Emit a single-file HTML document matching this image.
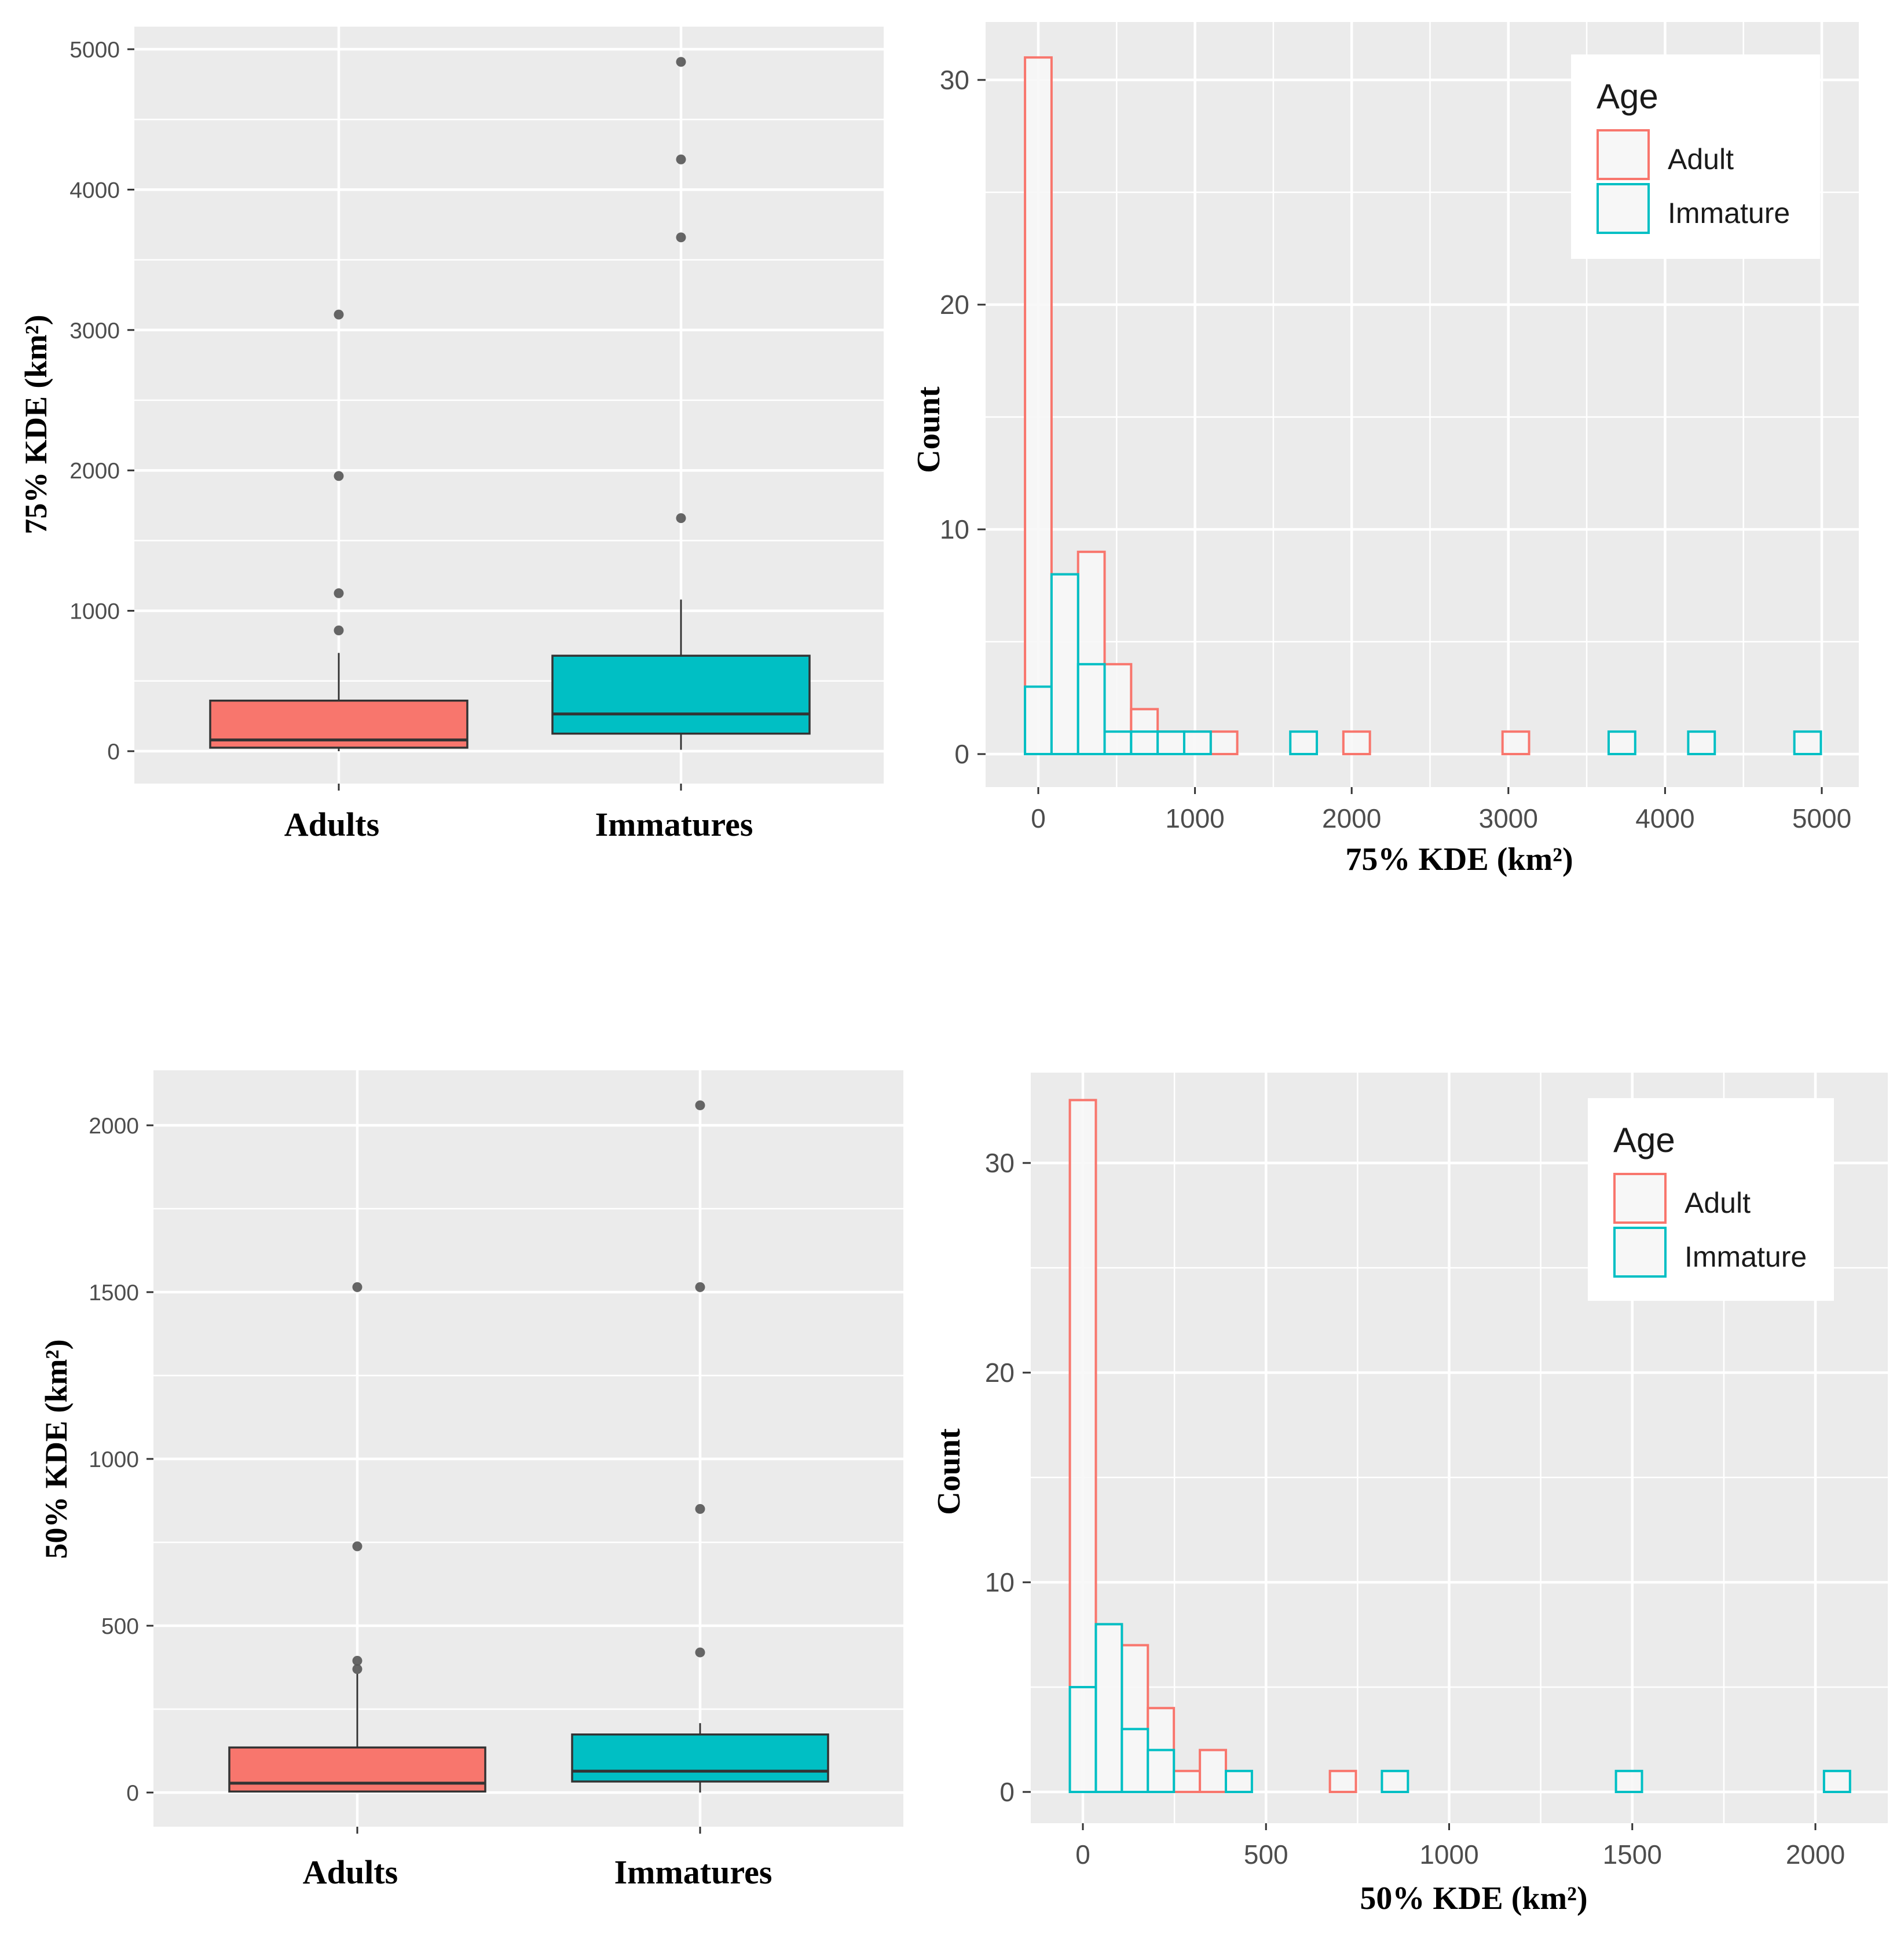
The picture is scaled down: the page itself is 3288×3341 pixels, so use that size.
<!DOCTYPE html>
<html><head><meta charset="utf-8">
<style>
html,body{margin:0;padding:0;background:#fff;}
svg{display:block;}
.tick{font-family:"Liberation Sans",sans-serif;fill:#4d4d4d;}
.ttl{font-family:"Liberation Serif",serif;font-weight:bold;fill:#000;}
.leg{font-family:"Liberation Sans",sans-serif;fill:#1a1a1a;}
</style></head>
<body>
<svg id="fig" width="3288" height="3341" viewBox="0 0 3288 3341" xmlns="http://www.w3.org/2000/svg"></svg>
<script>
// ---- Data: top boxplot (75% KDE) ----
const boxCats = ["Adults", "Immatures"];
const box75Lower = [0, 10];
const box75Q1 = [25, 125];
const box75Median = [80, 265];
const box75Q3 = [360, 680];
const box75Upper = [700, 1080];
const box75OutAdults = [3110, 1960, 1125, 860];
const box75OutImm = [4910, 4215, 3660, 1660];
const box75Ticks = [0, 1000, 2000, 3000, 4000, 5000];
// ---- Data: bottom boxplot (50% KDE) ----
const box50Lower = [0, 0];
const box50Q1 = [3, 33];
const box50Median = [28, 64];
const box50Q3 = [135, 174];
const box50Upper = [356, 208];
const box50OutAdults = [1515, 738, 395, 370];
const box50OutImm = [2060, 1515, 850, 420];
const box50Ticks = [0, 500, 1000, 1500, 2000];
// ---- Data: top histogram (75% KDE), 30 bins ----
const hist75BinWidth = 169.3;
const hist75Adult = [31,8,9,4,2,1,1,1,0,0,0,0,1,0,0,0,0,0,1,0,0,0,0,0,0,0,0,0,0,0];
const hist75Imm   = [3,8,4,1,1,1,1,0,0,0,1,0,0,0,0,0,0,0,0,0,0,0,1,0,0,1,0,0,0,1];
const hist75XTicks = [0,1000,2000,3000,4000,5000];
const hist75YTicks = [0,10,20,30];
// ---- Data: bottom histogram (50% KDE), 30 bins ----
const hist50BinWidth = 71;
const hist50Adult = [33,8,7,4,1,2,0,0,0,0,1,0,0,0,0,0,0,0,0,0,0,0,0,0,0,0,0,0,0,0];
const hist50Imm   = [5,8,3,2,0,0,1,0,0,0,0,0,1,0,0,0,0,0,0,0,0,1,0,0,0,0,0,0,0,1];
const hist50XTicks = [0,500,1000,1500,2000];
const hist50YTicks = [0,10,20,30];

const NS = "http://www.w3.org/2000/svg";
const svg = document.getElementById("fig");
function mk(tag, attrs, parent, text){
  const e = document.createElementNS(NS, tag);
  for (const k in attrs) e.setAttribute(k, attrs[k]);
  if (text !== undefined) e.textContent = text;
  (parent || svg).appendChild(e);
  return e;
}
const RED = "#F8766D", TEAL = "#00BFC4";

function panelBg(g, x0, y0, x1, y1){
  const r = mk("rect", {x:x0, y:y0, width:x1-x0, height:y1-y0, fill:"#ebebeb"}, g);
  
  
}
function hLine(g, x0, x1, y, w, name){
  const l = mk("line", {x1:x0, x2:x1, y1:y, y2:y, stroke:"#fff", "stroke-width":w}, g);
  
  
}
function vLine(g, y0, y1, x, w, name){
  const l = mk("line", {x1:x, x2:x, y1:y0, y2:y1, stroke:"#fff", "stroke-width":w}, g);
  
  
}

// ============ BOX PLOT ============
function boxPlot(o){
  const g = mk("g", {});
  
  
  const y = v => o.y0 - (v / o.unit) * o.unitPx;
  panelBg(g, o.px0, o.py0, o.px1, o.py1);
  for (let i = 0; i < o.ticks.length; i++){
    const mv = o.ticks[i] + o.unit/2;
    if (y(mv) > o.py0) hLine(g, o.px0, o.px1, y(mv), 2.5, 'minor-gridline');
  }
  for (let i = 0; i < o.ticks.length; i++){
    hLine(g, o.px0, o.px1, y(o.ticks[i]), 4.5, 'major-gridline');
    const t = mk("text", {x:o.px0-25, y:y(o.ticks[i])+14, "text-anchor":"end", class:"tick", "font-size":39}, g, String(o.ticks[i]));
    
    
    const tk = mk("line", {x1:o.px0-12, x2:o.px0, y1:y(o.ticks[i]), y2:y(o.ticks[i]), stroke:"#333", "stroke-width":3}, g);
    
    
  }
  const cx = o.cx;
  for (let i = 0; i < cx.length; i++) vLine(g, o.py0, o.py1, cx[i], 4.5, 'x-gridline');
  const fills = [RED, TEAL];
  const outs = [o.outA, o.outI];
  for (let i = 0; i < cx.length; i++){
    const wl = mk("line", {x1:cx[i], x2:cx[i], y1:y(o.upper[i]), y2:y(o.q3[i]), stroke:"#333", "stroke-width":3}, g);
    
    
    const wl2 = mk("line", {x1:cx[i], x2:cx[i], y1:y(o.q1[i]), y2:y(o.lower[i]), stroke:"#333", "stroke-width":3}, g);
    
    
    const b = mk("rect", {x:cx[i]-o.hw, y:y(o.q3[i]), width:2*o.hw, height:y(o.q1[i])-y(o.q3[i]), fill:fills[i], stroke:"#333", "stroke-width":3.5}, g);
    
    
    const m = mk("line", {x1:cx[i]-o.hw, x2:cx[i]+o.hw, y1:y(o.median[i]), y2:y(o.median[i]), stroke:"#333", "stroke-width":5}, g);
    
    
    for (let j = 0; j < outs[i].length; j++){
      const c = mk("circle", {cx:cx[i], cy:y(outs[i][j]), r:8.5, fill:"#555", opacity:0.9}, g);
      
      
    }
    const tk = mk("line", {x1:cx[i], x2:cx[i], y1:o.py1, y2:o.py1+12, stroke:"#333", "stroke-width":3}, g);
    
    
    const lb = mk("text", {x:cx[i]-12, y:o.labY, "text-anchor":"middle", class:"ttl", "font-size":58}, g, boxCats[i]);
    
    
  }
  const yt = mk("text", {x:0, y:0, "text-anchor":"middle", class:"ttl", "font-size":54, transform:`translate(${o.ytX},${o.ytY}) rotate(-90)`}, g, o.ytitle);
  
  
}

boxPlot({name:"boxplot-75-kde", px0:232, py0:46, px1:1526, py1:1353, y0:1297, unit:1000, unitPx:242.4,
  ticks:box75Ticks, cx:[585,1176], hw:222, lower:box75Lower, q1:box75Q1, median:box75Median, q3:box75Q3, upper:box75Upper,
  outA:box75OutAdults, outI:box75OutImm, labY:1443, ytitle:"75% KDE (km²)", ytX:80, ytY:733});
boxPlot({name:"boxplot-50-kde", px0:265, py0:1848, px1:1560, py1:3154, y0:3095, unit:500, unitPx:288,
  ticks:box50Ticks, cx:[617,1209], hw:221, lower:box50Lower, q1:box50Q1, median:box50Median, q3:box50Q3, upper:box50Upper,
  outA:box50OutAdults, outI:box50OutImm, labY:3252, ytitle:"50% KDE (km²)", ytX:115, ytY:2502});

// ============ HISTOGRAM ============
function histo(o){
  const g = mk("g", {});
  
  
  const x = v => o.x0 + v * o.xPx;
  const y = c => o.y0 - c * o.yPx;
  panelBg(g, o.px0, o.py0, o.px1, o.py1);
  const xs = o.xt[1] - o.xt[0];
  for (let i = -1; i < o.xt.length; i++){
    const mv = o.xt[0] + (i + 0.5) * xs;
    if (x(mv) > o.px0 && x(mv) < o.px1) vLine(g, o.py0, o.py1, x(mv), 2.5, 'x-minor-gridline');
  }
  for (let i = 0; i < o.yt.length; i++){
    const mv = o.yt[i] + 5;
    if (y(mv) > o.py0) hLine(g, o.px0, o.px1, y(mv), 2.5, 'y-minor-gridline');
  }
  for (let i = 0; i < o.xt.length; i++){
    vLine(g, o.py0, o.py1, x(o.xt[i]), 4.5, 'x-major-gridline');
    const tk = mk("line", {x1:x(o.xt[i]), x2:x(o.xt[i]), y1:o.py1, y2:o.py1+12, stroke:"#333", "stroke-width":3}, g);
    
    
    const t = mk("text", {x:x(o.xt[i]), y:o.py1+70, "text-anchor":"middle", class:"tick", "font-size":46}, g, String(o.xt[i]));
    
    
  }
  for (let i = 0; i < o.yt.length; i++){
    hLine(g, o.px0, o.px1, y(o.yt[i]), 4.5, 'y-major-gridline');
    const tk = mk("line", {x1:o.px0-14, x2:o.px0, y1:y(o.yt[i]), y2:y(o.yt[i]), stroke:"#333", "stroke-width":3}, g);
    
    
    const t = mk("text", {x:o.px0-28, y:y(o.yt[i])+16, "text-anchor":"end", class:"tick", "font-size":46}, g, String(o.yt[i]));
    
    
  }
  const series = [[o.adult, RED, 'adult'], [o.imm, TEAL, 'immature']];
  for (const [vals, col, nm] of series){
    for (let k = 0; k < vals.length; k++){
      const xl = x((k - 0.5) * o.bw), xr = x((k + 0.5) * o.bw);
      const r = mk("rect", {x:xl, y:y(vals[k]), width:xr-xl, height:y(0)-y(vals[k]), fill:"#f7f7f7", "fill-opacity":0.9, stroke:col, "stroke-width":4}, g);
      
      
    }
  }
  const L = o.leg;
  const lb = mk("rect", {x:L.x, y:L.y, width:L.w, height:L.h, fill:"#fff"}, g);
  
  
  const lt = mk("text", {x:L.x+44, y:L.y+93, class:"leg", "font-size":60}, g, "Age");
  
  
  const items = [["Adult", RED], ["Immature", TEAL]];
  for (let i = 0; i < 2; i++){
    const ky = L.y + 131 + i * 93;
    const k = mk("rect", {x:L.x+46, y:ky, width:88, height:84, fill:"#f7f7f7", stroke:items[i][1], "stroke-width":4}, g);
    
    
    const t = mk("text", {x:L.x+167, y:ky+67, class:"leg", "font-size":50}, g, items[i][0]);
    
    
  }
  const xt = mk("text", {x:o.xtX, y:o.xtY, "text-anchor":"middle", class:"ttl", "font-size":56}, g, o.xtitle);
  
  
  const yt = mk("text", {x:0, y:0, "text-anchor":"middle", class:"ttl", "font-size":56, transform:`translate(${o.ytX},${o.ytY}) rotate(-90)`}, g, "Count");
  
  
}

histo({name:"histogram-75-kde", px0:1702, py0:38, px1:3210, py1:1359, x0:1793, xPx:0.2706, y0:1302, yPx:38.8,
  bw:hist75BinWidth, adult:hist75Adult, imm:hist75Imm, xt:hist75XTicks, yt:hist75YTicks,
  leg:{x:2713, y:94, w:430, h:353}, xtitle:"75% KDE (km²)", xtX:2520, xtY:1502, ytX:1622, ytY:742});
histo({name:"histogram-50-kde", px0:1780, py0:1852, px1:3260, py1:3148, x0:1870, xPx:0.6325, y0:3094, yPx:36.2,
  bw:hist50BinWidth, adult:hist50Adult, imm:hist50Imm, xt:hist50XTicks, yt:hist50YTicks,
  leg:{x:2742, y:1896, w:425, h:350}, xtitle:"50% KDE (km²)", xtX:2545, xtY:3296, ytX:1657, ytY:2541});
</script>
</body></html>
